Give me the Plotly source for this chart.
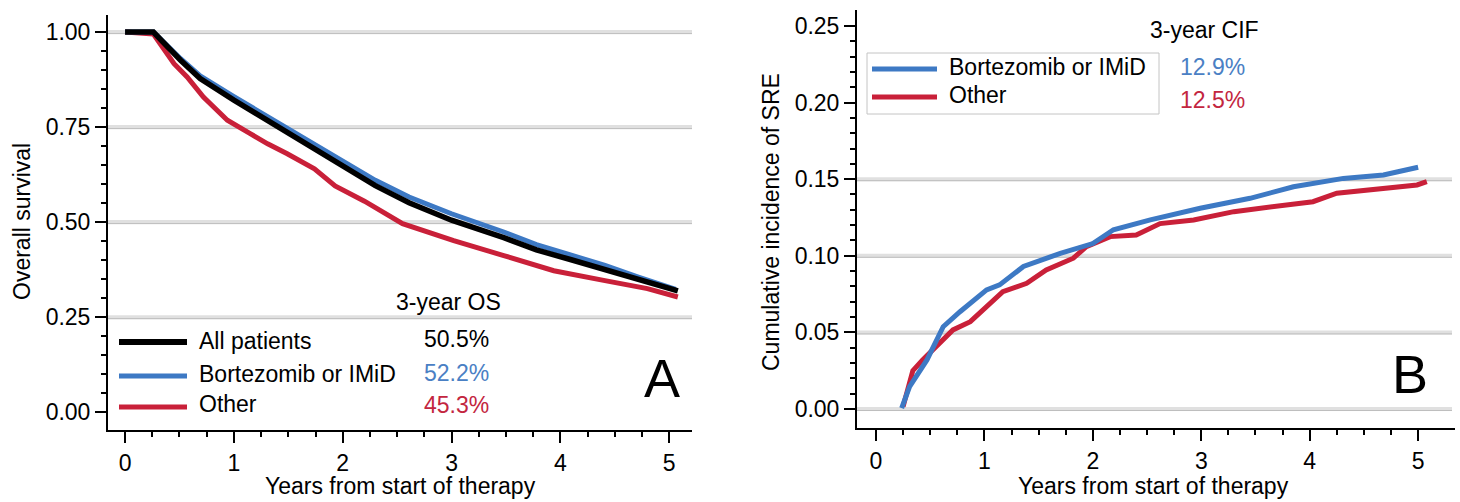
import plotly.graph_objects as go
import numpy as np

# ---------------- Panel A: overall survival (Kaplan-Meier) ----------------
os_all_t = [0, 0.26, 0.51, 0.69, 1.00, 1.31, 1.61, 1.92, 2.30, 2.61, 3.00, 3.48, 3.78, 4.10, 4.41, 4.71, 5.08]
os_all_s = [1.0, 1.0, 0.926, 0.878, 0.821, 0.768, 0.715, 0.662, 0.596, 0.551, 0.505, 0.459, 0.427, 0.401, 0.375, 0.348, 0.319]

os_bort_t = [0, 0.26, 0.51, 0.69, 1.00, 1.31, 1.61, 1.92, 2.30, 2.61, 3.00, 3.48, 3.78, 4.10, 4.41, 4.71, 5.06]
os_bort_s = [1.0, 1.0, 0.930, 0.885, 0.830, 0.778, 0.727, 0.675, 0.610, 0.566, 0.522, 0.474, 0.441, 0.413, 0.386, 0.356, 0.323]

os_other_t = [0, 0.26, 0.45, 0.57, 0.72, 0.94, 1.15, 1.31, 1.49, 1.74, 1.93, 2.20, 2.55, 3.02, 3.48, 3.94, 4.41, 4.80, 5.08]
os_other_s = [1.0, 0.995, 0.917, 0.882, 0.829, 0.768, 0.733, 0.706, 0.680, 0.640, 0.595, 0.555, 0.496, 0.451, 0.412, 0.372, 0.346, 0.325, 0.303]

# ---------------- Panel B: cumulative incidence of SRE ----------------
cif_bort_t = [0.237, 0.31, 0.47, 0.62, 0.775, 1.02, 1.14, 1.36, 1.70, 2.00, 2.19, 2.53, 2.99, 3.45, 3.85, 4.31, 4.68, 5.00]
cif_bort_v = [0.0005, 0.0146, 0.032, 0.0537, 0.0635, 0.0777, 0.081, 0.093, 0.1016, 0.108, 0.117, 0.1234, 0.131, 0.1375, 0.145, 0.1505, 0.1527, 0.1578]

cif_other_t = [0.25, 0.34, 0.43, 0.56, 0.71, 0.87, 1.08, 1.17, 1.39, 1.57, 1.82, 1.94, 2.16, 2.40, 2.62, 2.93, 3.30, 3.70, 4.03, 4.25, 4.68, 4.99, 5.08]
cif_other_v = [0.0015, 0.025, 0.032, 0.0407, 0.0516, 0.057, 0.0711, 0.0766, 0.082, 0.0907, 0.0984, 0.106, 0.1125, 0.1136, 0.121, 0.1234, 0.1288, 0.132, 0.1353, 0.1408, 0.144, 0.1462, 0.1484]

# labels / ticks
x_ticks = [0, 1, 2, 3, 4, 5]
x_minor = [0.25, 0.5, 0.75, 1.25, 1.5, 1.75, 2.25, 2.5, 2.75, 3.25, 3.5, 3.75, 4.25, 4.5, 4.75]
os_ticks = [0.0, 0.25, 0.5, 0.75, 1.0]
os_minor = [round(v, 2) for v in np.arange(0.05, 1.0, 0.05)]
os_grid = [0.25, 0.5, 0.75, 1.0]
sre_ticks = [0.0, 0.05, 0.10, 0.15, 0.20, 0.25]
sre_minor = [round(v, 2) for v in np.arange(0.01, 0.25, 0.01)]
sre_grid = [0.0, 0.05, 0.10, 0.15]

os_legend = ["All patients", "Bortezomib or IMiD", "Other"]
os_3yr = ["50.5%", "52.2%", "45.3%"]
sre_legend = ["Bortezomib or IMiD", "Other"]
sre_3yr = ["12.9%", "12.5%"]

W, H = 1460, 502
def px(x):
    return x / W
def py(y):
    return 1 - y / H

FONT = "Liberation Sans, Arial, sans-serif"
BLUE = "#3d79c4"
RED = "#c92039"
BLACK = "#000000"
BLUE_T = "#4a80c4"
RED_T = "#c3263f"

fig = go.Figure()

# Panel A traces (red, blue, black on top)
fig.add_trace(go.Scatter(x=os_other_t, y=os_other_s, mode="lines", name="Other",
                         line=dict(color=RED, width=5), xaxis="x", yaxis="y", showlegend=False))
fig.add_trace(go.Scatter(x=os_bort_t, y=os_bort_s, mode="lines", name="Bortezomib or IMiD",
                         line=dict(color=BLUE, width=5), xaxis="x", yaxis="y", showlegend=False))
fig.add_trace(go.Scatter(x=os_all_t, y=os_all_s, mode="lines", name="All patients",
                         line=dict(color=BLACK, width=5.5), xaxis="x", yaxis="y", showlegend=False))

# Panel B traces
fig.add_trace(go.Scatter(x=cif_other_t, y=cif_other_v, mode="lines", name="Other",
                         line=dict(color=RED, width=5), xaxis="x2", yaxis="y2", showlegend=False))
fig.add_trace(go.Scatter(x=cif_bort_t, y=cif_bort_v, mode="lines", name="Bortezomib or IMiD",
                         line=dict(color=BLUE, width=5), xaxis="x2", yaxis="y2", showlegend=False))

tickfont = dict(family=FONT, size=23, color="black")
common = dict(showline=True, linewidth=2, linecolor="black", ticks="outside", ticklen=11,
              tickwidth=2, tickcolor="black", showgrid=False, zeroline=False, tickfont=tickfont,
              fixedrange=True)

fig.update_layout(
    width=W, height=H,
    margin=dict(l=0, r=0, t=0, b=0),
    paper_bgcolor="white", plot_bgcolor="white",
    showlegend=False,
    xaxis=dict(domain=[px(108), px(692)], range=[-0.157, 5.21], anchor="y", tickvals=x_ticks,
               minor=dict(tickvals=x_minor, ticklen=5, tickwidth=2, tickcolor="black", ticks="outside"),
               **common),
    yaxis=dict(domain=[py(430), py(15)], range=[-0.047, 1.045], anchor="x", tickvals=os_ticks,
               tickformat=".2f",
               minor=dict(tickvals=os_minor, ticklen=5, tickwidth=2, tickcolor="black", ticks="outside"),
               **common),
    xaxis2=dict(domain=[px(857), px(1455)], range=[-0.175, 5.34], anchor="y2", tickvals=x_ticks,
                minor=dict(tickvals=x_minor, ticklen=5, tickwidth=2, tickcolor="black", ticks="outside"),
                **common),
    yaxis2=dict(domain=[py(428), py(10)], range=[-0.0124, 0.2604], anchor="x2", tickvals=sre_ticks,
                tickformat=".2f",
                minor=dict(tickvals=sre_minor, ticklen=5, tickwidth=2, tickcolor="black", ticks="outside"),
                **common),
)

# gridlines (light band with darker lower edge)
shapes = []
for v in os_grid:
    shapes.append(dict(type="line", xref="x domain", yref="y", x0=0, x1=1, y0=v, y1=v,
                       line=dict(color="#e0e0e0", width=4), layer="below"))
    shapes.append(dict(type="line", xref="x domain", yref="y", x0=0, x1=1, y0=v - 0.004, y1=v - 0.004,
                       line=dict(color="#bdbdbd", width=1), layer="below"))
for v in sre_grid:
    shapes.append(dict(type="line", xref="x2 domain", yref="y2", x0=0, x1=0.995, y0=v, y1=v,
                       line=dict(color="#e0e0e0", width=4), layer="below"))
    shapes.append(dict(type="line", xref="x2 domain", yref="y2", x0=0, x1=0.995, y0=v - 0.001, y1=v - 0.001,
                       line=dict(color="#bdbdbd", width=1), layer="below"))

# Panel A legend samples
leg_a_y = [342, 376, 407]
leg_a_col = [BLACK, BLUE, RED]
leg_a_txtcol = [BLACK, BLUE_T, RED_T]
for yy, c in zip(leg_a_y, leg_a_col):
    shapes.append(dict(type="line", xref="paper", yref="paper", x0=px(119), x1=px(187), y0=py(yy), y1=py(yy),
                       line=dict(color=c, width=6 if c == BLACK else 5)))

# Panel B legend box and samples
shapes.append(dict(type="rect", xref="paper", yref="paper", x0=px(867), x1=px(1159), y0=py(114), y1=py(53),
                   line=dict(color="#c4c4c4", width=1), fillcolor="white"))
leg_b_y = [69, 97]
leg_b_col = [BLUE, RED]
for yy, c in zip(leg_b_y, leg_b_col):
    shapes.append(dict(type="line", xref="paper", yref="paper", x0=px(872), x1=px(937), y0=py(yy), y1=py(yy),
                       line=dict(color=c, width=5)))
fig.update_layout(shapes=shapes)

ann = []
def text(x, y, s, color="black", size=23, xanchor="left", angle=0, family=FONT):
    ann.append(dict(xref="paper", yref="paper", x=px(x), y=py(y), text=s, showarrow=False,
                    xanchor=xanchor, yanchor="middle", textangle=angle,
                    font=dict(family=family, size=size, color=color)))

# axis titles
text(22, 222, "Overall survival", xanchor="center", angle=-90)
text(400, 486, "Years from start of therapy", xanchor="center")
text(771, 222, "Cumulative incidence of SRE", xanchor="center", angle=-90)
text(1153, 486, "Years from start of therapy", xanchor="center")

# Panel A legend text
text(448, 302, "3-year OS", xanchor="center")
for yy, lab in zip([341, 374, 404], os_legend):
    text(197, yy, lab)
for yy, pct, c in zip([339, 373, 405], os_3yr, leg_a_txtcol):
    text(456, yy, pct, color=c, xanchor="center")

# Panel B legend text
text(1204, 30, "3-year CIF", xanchor="center")
for yy, lab in zip([67, 95], sre_legend):
    text(947, yy, lab)
for yy, pct, c in zip([67, 100], sre_3yr, [BLUE_T, RED_T]):
    text(1212, yy, pct, color=c, xanchor="center")

# panel letters
text(662, 378, "A", size=54, xanchor="center")
text(1410, 374, "B", size=54, xanchor="center")

fig.update_layout(annotations=ann)

fig.write_html("out.html", config={"displayModeBar": False},
               post_script="document.body.style.margin='0';document.body.style.padding='0';")
